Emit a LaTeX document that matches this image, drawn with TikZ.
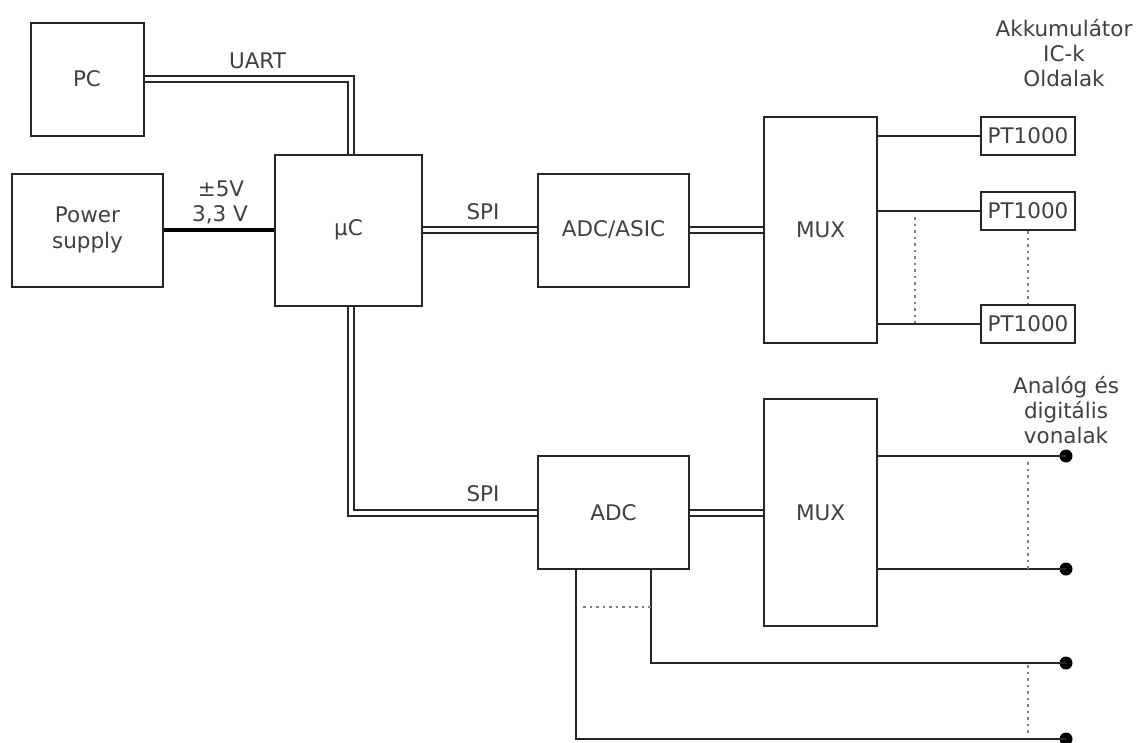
\documentclass[tikz,border=0pt]{standalone}
\usepackage{fontspec}
\setmainfont{DejaVu Sans}
\usetikzlibrary{calc}
\begin{document}
\begin{tikzpicture}[x=1pt,y=-1pt,
  every node/.style={font=\fontsize{21.5}{26}\selectfont, text=black!75},
  blk/.style={draw=black!85, line width=2pt, fill=white, inner sep=0pt},
  wire/.style={draw=black!85, line width=2pt},
  bus/.style={draw=black!85, line width=2pt, double=white, double distance=4pt},
  pwr/.style={draw=black, line width=4.5pt},
  dots/.style={draw=black!50, line width=1.3pt, dash pattern=on 2.5pt off 4pt},
  term/.style={circle, fill=black, inner sep=0pt, minimum size=13pt},
  lbl/.style={inner sep=0pt, align=center}]
\useasboundingbox (0,0) rectangle (1139,742);
\fill[white] (0,0) rectangle (1139,742);

% blocks
\node[blk, minimum width=113pt, minimum height=113pt] (pc) at (87,79) {PC};
\node[blk, minimum width=151pt, minimum height=113pt, align=center] (ps) at (87.5,230) {Power\\supply};
\node[blk, minimum width=147pt, minimum height=151pt] (uc) at (348.5,230) {µC};
\node[blk, minimum width=151pt, minimum height=113pt] (asic) at (613.5,230) {ADC/ASIC};
\node[blk, minimum width=113pt, minimum height=226pt] (mux1) at (820.5,230) {MUX};
\node[blk, minimum width=94pt, minimum height=38pt] (pt1) at (1028,136) {PT1000};
\node[blk, minimum width=94pt, minimum height=38pt] (pt2) at (1028,211) {PT1000};
\node[blk, minimum width=94pt, minimum height=38pt] (pt3) at (1028,324) {PT1000};
\node[blk, minimum width=151pt, minimum height=113pt] (adc) at (613.5,512.5) {ADC};
\node[blk, minimum width=113pt, minimum height=227pt] (mux2) at (820.5,512.5) {MUX};

% terminals
\node[term] (d1) at (1066,456) {};
\node[term] (d2) at (1066,569) {};
\node[term] (d3) at (1066,663) {};
\node[term] (d4) at (1066,739) {};

% connectors
\draw[bus] (pc.east) -| ($(uc.north)+(2,0)$);
\draw[pwr] (ps.east) -- (uc.west);
\draw[bus] (uc.east) -- (asic.west);
\draw[bus] (asic.east) -- (mux1.west);
\draw[bus] ($(uc.south)+(2,0)$) |- (adc.west);
\draw[bus] (adc.east) -- (mux2.west);

\draw[wire] (mux1.east |- pt1.west) -- (pt1.west);
\draw[wire] (mux1.east |- pt2.west) -- (pt2.west);
\draw[wire] (mux1.east |- pt3.west) -- (pt3.west);

\draw[wire] (mux2.east |- d1) -- (d1.center);
\draw[wire] (mux2.east |- d2) -- (d2.center);
\coordinate (a1) at ($(adc.south west)+(114,0)$);
\coordinate (a2) at ($(adc.south west)+(39,0)$);
\draw[wire] (a1) |- (d3.center);
\draw[wire] (a2) |- (d4.center);

% dotted continuation marks
\draw[dots] (915,217) -- (915,323);
\draw[dots] (pt2.south) -- (pt3.north);
\draw[dots] (1028,462) -- (1028,569);
\draw[dots] (1028,665) -- (1028,735);
\draw[dots] (583,607) -- (652,607);

% labels
\node[lbl] (luart) at (257.5,61) {UART};
\node[lbl] (lv1) at (221,189) {±5V};
\node[lbl] (lv2) at (220,215) {3,3 V};
\node[lbl] (lspi1) at (483,212) {SPI};
\node[lbl] (lspi2) at (483,494) {SPI};
\node[lbl, text width=160pt, align=center] (lakk) at (1064,53) {Akkumulátor\\[-1pt]IC-k\\[-1pt]Oldalak};
\node[lbl, text width=160pt, align=center] (lana) at (1066,410) {Analóg és\\[-1pt]digitális\\[-1pt]vonalak};
\end{tikzpicture}
\end{document}
